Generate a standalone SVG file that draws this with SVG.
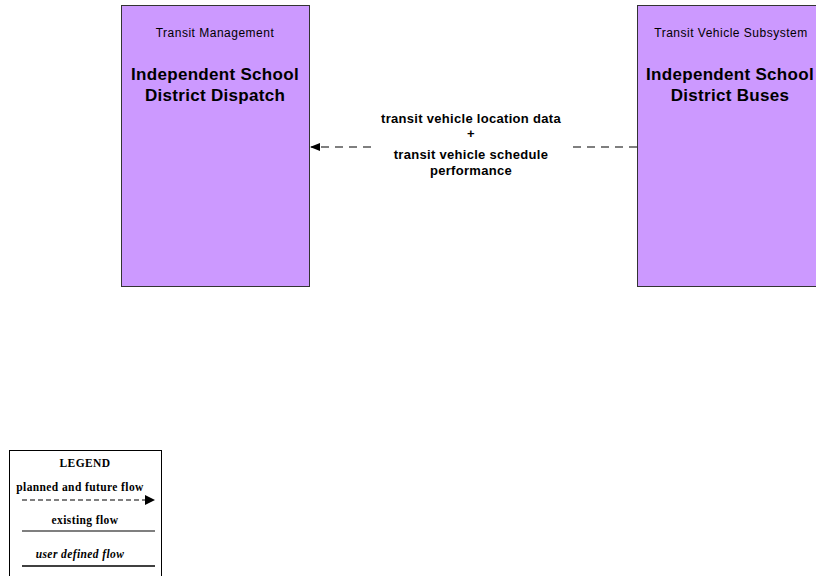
<svg xmlns="http://www.w3.org/2000/svg" width="816" height="576" viewBox="0 0 816 576">
<style>
.node{fill:#CC99FF;stroke:#333;stroke-width:1}
.sub{font-family:"Liberation Sans",Arial,sans-serif;font-size:12px;letter-spacing:0.5px;fill:#000;text-anchor:middle}
.title{font-family:"Liberation Sans",Arial,sans-serif;font-size:17px;letter-spacing:0.3px;font-weight:bold;fill:#000;text-anchor:middle}
.flow{font-family:"Liberation Sans",Arial,sans-serif;font-size:13px;letter-spacing:0.3px;font-weight:bold;fill:#000;text-anchor:middle}
.leg{font-family:"Liberation Serif","Times New Roman",serif;font-size:11.5px;letter-spacing:0.4px;font-weight:bold;fill:#000;text-anchor:middle}
.dash{stroke:#000;stroke-width:1.2;stroke-dasharray:8,6;fill:none}
</style>
<defs>
<marker id="ah" markerWidth="10" markerHeight="8" refX="9" refY="4" orient="auto" markerUnits="userSpaceOnUse">
<path d="M0,0 L10,4 L0,8 z" fill="#000"/>
</marker>
</defs>
<rect width="816" height="576" fill="#fff"/>
<g id="node-dispatch">
<rect class="node" x="121.5" y="5.5" width="188" height="281"/>
<text class="sub" x="215" y="37">Transit Management</text>
<text class="title" x="215" y="80">Independent School</text>
<text class="title" x="215" y="101">District Dispatch</text>
</g>
<g id="node-buses">
<rect class="node" x="637.5" y="5.5" width="188" height="281"/>
<text class="sub" x="731" y="37">Transit Vehicle Subsystem</text>
<text class="title" x="730" y="80">Independent School</text>
<text class="title" x="730" y="101">District Buses</text>
</g>
<g id="connectors">
<path class="dash" d="M637,147 L571,147"/>
<path class="dash" d="M371,147 L311,147" marker-end="url(#ah)"/>
<text class="flow" x="471" y="123">transit vehicle location data</text>
<text class="flow" x="471" y="138">+</text>
<text class="flow" x="471" y="159">transit vehicle schedule</text>
<text class="flow" x="471" y="175">performance</text>
</g>
<g id="legend">
<rect x="9.5" y="450.5" width="152" height="126" fill="#fff" stroke="#000" stroke-width="1"/>
<text class="leg" x="85" y="467">LEGEND</text>
<text class="leg" x="80" y="491">planned and future flow</text>
<path d="M22,500 L145,500" stroke="#000" stroke-width="1.2" stroke-dasharray="5,3" fill="none"/>
<path d="M145,495 L155,500 L145,505 z" fill="#000"/>
<text class="leg" x="85" y="524">existing flow</text>
<path d="M22,531 L155,531" stroke="#000" stroke-width="1.2"/>
<text class="leg" x="80" y="558" font-style="italic">user defined flow</text>
<path d="M22,566 L155,566" stroke="#000" stroke-width="1.5"/>
</g>
</svg>
